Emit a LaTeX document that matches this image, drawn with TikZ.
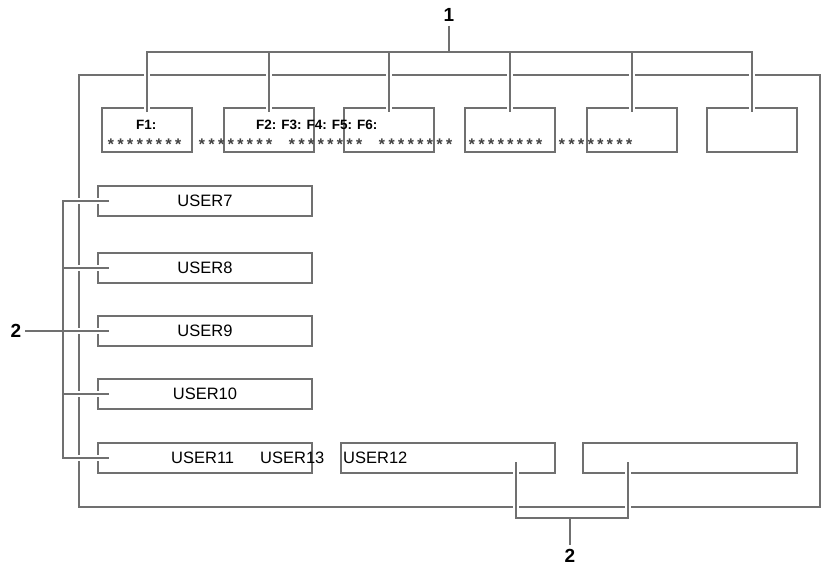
\documentclass[tikz,border=0pt]{standalone}
\usepackage{fontspec}
\setmainfont{Liberation Sans}
\newfontfamily\starfont{Liberation Mono}
\definecolor{linegray}{RGB}{112,112,112}
\tikzset{
  keybox/.style={draw=linegray, line width=2pt, inner sep=0pt},
  fkey/.style={keybox, minimum width=90pt, minimum height=44pt},
  userkey/.style={keybox, minimum width=214pt, minimum height=30pt},
  leader/.style={draw=linegray, line width=2pt, preaction={draw=white, line width=6pt}},
  keytext/.style={font=\fontsize{16.5}{19}\selectfont, inner sep=0pt},
  ftext/.style={font=\fontsize{13.5}{16}\selectfont\bfseries, inner sep=0pt, anchor=base west},
  stars/.style={font=\fontsize{16}{19}\starfont\bfseries, text=black!75, inner sep=0pt, anchor=base west},
  callout/.style={font=\fontsize{19}{22}\selectfont\bfseries, inner sep=4pt}
}

\begin{document}
\begin{tikzpicture}[x=1pt, y=-1pt]
            \useasboundingbox (0,0) rectangle (826,570);

            % screen frame
            \node[keybox, minimum width=741pt, minimum height=432pt] (frame) at (449.5,291) {};

            % function keys on top
            \foreach \i/\x in {1/147,2/269,3/389,4/510,5/632,6/752}
                \node[fkey] (f\i) at (\x,130) {};

            % user keys on the left
            \foreach \i/\y in {7/201,8/268,9/331,10/394,11/458}
                \node[userkey] (u\i) at (205,\y) {};

            % user keys at the bottom
            \node[userkey] (ubot1) at (448,458) {};
            \node[userkey] (ubot2) at (690,458) {};

            % callout 1
            \node[callout] (lab1) at (449,15) {1};
            \coordinate (tbar) at (0,52);
            \draw[leader] (lab1.south) -- (lab1.south |- tbar)
                ([yshift=-5pt]f1.north) -- (f1.north |- tbar) -- (f6.north |- tbar) -- ([yshift=-5pt]f6.north)
                (f2.north |- tbar) -- ([yshift=-5pt]f2.north)
                (f3.north |- tbar) -- ([yshift=-5pt]f3.north)
                (f4.north |- tbar) -- ([yshift=-5pt]f4.north)
                (f5.north |- tbar) -- ([yshift=-5pt]f5.north);

            % callout 2, left
            \node[callout] (lab2) at (16,331) {2};
            \coordinate (lbar) at (63,0);
            \draw[leader] (lab2.east) -- (lab2 -| lbar)
                ([xshift=12pt]u7.west) -- (u7.west -| lbar) -- (u11.west -| lbar) -- ([xshift=12pt]u11.west)
                (u8.west -| lbar) -- ([xshift=12pt]u8.west)
                (u9.west -| lbar) -- ([xshift=12pt]u9.west)
                (u10.west -| lbar) -- ([xshift=12pt]u10.west);

            % callout 2, bottom
            \node[callout] (lab3) at (570,556) {2};
            \coordinate (bbar) at (0,518);
            \coordinate (bs1) at ([xshift=68pt,yshift=-4pt]ubot1.center);
            \coordinate (bs2) at ([xshift=-62pt,yshift=-4pt]ubot2.center);
            \draw[leader] (bs1) -- (bs1 |- bbar) -- (bs2 |- bbar) -- (bs2)
                (lab3.north) -- (lab3.north |- bbar);

            % key texts
            \node[ftext] (tf1) at (136,129) {F1:};
            \node[ftext] (tf2) at (256,129) {F2: F3: F4: F5: F6:};
            \foreach \i/\x in {1/106,2/197,3/287,4/377,5/467,6/557}
                \node[stars] (st\i) at (\x,150) {********};

            \node[keytext] (tu7) at (u7) {USER7};
            \node[keytext] (tu8) at (u8) {USER8};
            \node[keytext] (tu9) at (u9) {USER9};
            \node[keytext] (tu10) at (u10) {USER10};
            \node[keytext, anchor=west] (tu11) at (171,458) {USER11};
            \node[keytext, anchor=west] (tu13) at (260,458) {USER13};
            \node[keytext, anchor=west] (tu12) at (343,458) {USER12};
\end{tikzpicture}
\end{document}
